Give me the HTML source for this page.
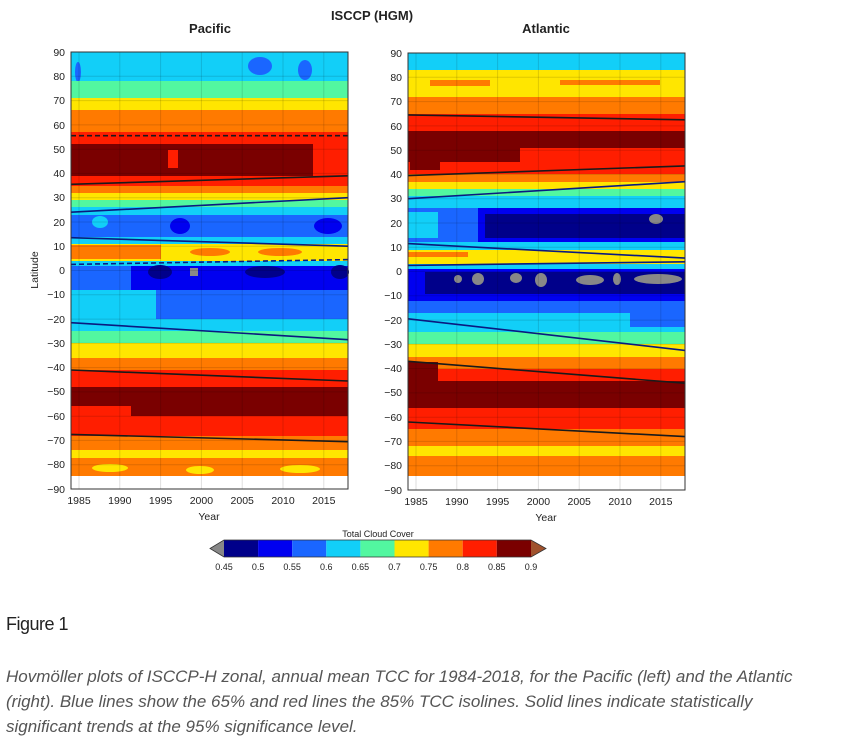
<!DOCTYPE html>
<html><head><meta charset="utf-8"><style>
body{margin:0;background:#fff;width:847px;height:750px;overflow:hidden;font-family:"Liberation Sans",sans-serif}
svg{position:absolute;left:0;top:0}
.fig{position:absolute;left:6px;top:614px;font-size:18px;color:#222;letter-spacing:-0.5px}
.cap{position:absolute;left:6px;top:664px;width:800px;font-size:17px;line-height:25px;font-style:italic;color:#555}
</style></head><body>
<svg width="847" height="750" viewBox="0 0 847 750" font-family="Liberation Sans, sans-serif">
<text x="372" y="20" font-size="13" font-weight="bold" text-anchor="middle" fill="#222">ISCCP (HGM)</text>
<text x="210" y="33" font-size="13" font-weight="bold" text-anchor="middle" fill="#222">Pacific</text>
<text x="546" y="33" font-size="13" font-weight="bold" text-anchor="middle" fill="#222">Atlantic</text>

<!-- PACIFIC -->
<g>
<rect x="71" y="52" width="277" height="29" fill="#12cff8"/>
<ellipse cx="260" cy="66" rx="12" ry="9" fill="#1a66ff"/><ellipse cx="305" cy="70" rx="7" ry="10" fill="#1a66ff"/><ellipse cx="78" cy="72" rx="3" ry="10" fill="#1a66ff"/>
<rect x="71" y="81" width="277" height="17" fill="#52f7a0"/>
<rect x="71" y="98" width="277" height="12" fill="#ffe600"/>
<rect x="71" y="110" width="277" height="22" fill="#ff7a00"/>
<rect x="71" y="132" width="277" height="12" fill="#ff1e00"/>
<rect x="71" y="144" width="277" height="32" fill="#7a0000"/>
<rect x="313" y="144" width="35" height="32" fill="#ff1e00"/>
<rect x="168" y="150" width="10" height="18" fill="#ff1e00"/>
<rect x="71" y="176" width="277" height="10" fill="#ff1e00"/>
<rect x="71" y="186" width="277" height="7" fill="#ff7a00"/>
<rect x="71" y="193" width="277" height="7" fill="#ffe600"/>
<rect x="71" y="200" width="277" height="7" fill="#52f7a0"/>
<rect x="71" y="207" width="277" height="8" fill="#12cff8"/>
<rect x="71" y="215" width="277" height="22" fill="#1a66ff"/>
<ellipse cx="180" cy="226" rx="10" ry="8" fill="#0000f0"/><ellipse cx="328" cy="226" rx="14" ry="8" fill="#0000f0"/><ellipse cx="100" cy="222" rx="8" ry="6" fill="#12cff8"/>
<rect x="71" y="237" width="277" height="7" fill="#12cff8"/>
<rect x="71" y="244" width="277" height="17" fill="#ffe600"/>
<rect x="71" y="245" width="90" height="14" fill="#ff7a00"/>
<ellipse cx="210" cy="252" rx="20" ry="4" fill="#ff7a00"/><ellipse cx="280" cy="252" rx="22" ry="4" fill="#ff7a00"/>
<rect x="71" y="261" width="277" height="5" fill="#12cff8"/>
<rect x="71" y="266" width="277" height="24" fill="#0000f0"/>
<rect x="71" y="266" width="60" height="24" fill="#1a66ff"/>
<ellipse cx="160" cy="272" rx="12" ry="7" fill="#00008a"/><ellipse cx="265" cy="272" rx="20" ry="6" fill="#00008a"/><ellipse cx="340" cy="272" rx="9" ry="7" fill="#00008a"/>
<rect x="190" y="268" width="8" height="8" fill="#888"/>
<rect x="71" y="290" width="277" height="29" fill="#1a66ff"/>
<rect x="71" y="290" width="85" height="29" fill="#12cff8"/>
<rect x="71" y="319" width="277" height="12" fill="#12cff8"/>
<rect x="71" y="331" width="277" height="12" fill="#52f7a0"/>
<rect x="71" y="343" width="277" height="15" fill="#ffe600"/>
<rect x="71" y="358" width="277" height="12" fill="#ff7a00"/>
<rect x="71" y="370" width="277" height="17" fill="#ff1e00"/>
<rect x="71" y="387" width="277" height="29" fill="#7a0000"/>
<rect x="71" y="406" width="60" height="10" fill="#ff1e00"/>
<rect x="71" y="416" width="277" height="20" fill="#ff1e00"/>
<rect x="71" y="436" width="277" height="14" fill="#ff7a00"/>
<rect x="71" y="450" width="277" height="8" fill="#ffe600"/>
<rect x="71" y="458" width="277" height="7" fill="#ff7a00"/>
<rect x="71" y="465" width="277" height="11" fill="#ff7a00"/>
<ellipse cx="110" cy="468" rx="18" ry="4" fill="#ffe600"/><ellipse cx="200" cy="470" rx="14" ry="4" fill="#ffe600"/><ellipse cx="300" cy="469" rx="20" ry="4" fill="#ffe600"/>
</g>
<!-- ATLANTIC -->
<g>
<rect x="408" y="53" width="277" height="17" fill="#12cff8"/>
<rect x="408" y="70" width="277" height="27" fill="#ffe600"/>
<rect x="430" y="80" width="60" height="6" fill="#ff7a00"/><rect x="560" y="80" width="100" height="5" fill="#ff7a00"/>
<rect x="408" y="97" width="277" height="17" fill="#ff7a00"/>
<rect x="408" y="114" width="277" height="17" fill="#ff1e00"/>
<rect x="408" y="131" width="277" height="31" fill="#7a0000"/>
<rect x="520" y="148" width="165" height="14" fill="#ff1e00"/>
<rect x="408" y="162" width="277" height="12" fill="#ff1e00"/>
<rect x="410" y="162" width="30" height="8" fill="#7a0000"/>
<rect x="408" y="174" width="277" height="8" fill="#ff7a00"/>
<rect x="408" y="182" width="277" height="7" fill="#ffe600"/>
<rect x="408" y="189" width="277" height="7" fill="#52f7a0"/>
<rect x="408" y="196" width="277" height="12" fill="#12cff8"/>
<rect x="408" y="208" width="277" height="34" fill="#0000f0"/>
<rect x="408" y="208" width="70" height="34" fill="#1a66ff"/>
<rect x="408" y="212" width="30" height="26" fill="#12cff8"/>
<rect x="485" y="214" width="200" height="24" fill="#00008a"/>
<ellipse cx="656" cy="219" rx="7" ry="5" fill="#888"/>
<rect x="408" y="242" width="277" height="8" fill="#12cff8"/>
<rect x="408" y="250" width="277" height="14" fill="#ffe600"/>
<rect x="408" y="252" width="60" height="5" fill="#ff7a00"/>
<rect x="408" y="264" width="277" height="5" fill="#12cff8"/>
<rect x="408" y="269" width="277" height="32" fill="#0000f0"/>
<rect x="425" y="272" width="260" height="22" fill="#00008a"/>
<ellipse cx="458" cy="279" rx="4" ry="4" fill="#888"/><ellipse cx="478" cy="279" rx="6" ry="6" fill="#888"/><ellipse cx="516" cy="278" rx="6" ry="5" fill="#888"/>
<ellipse cx="541" cy="280" rx="6" ry="7" fill="#888"/><ellipse cx="590" cy="280" rx="14" ry="5" fill="#888"/><ellipse cx="617" cy="279" rx="4" ry="6" fill="#888"/><ellipse cx="658" cy="279" rx="24" ry="5" fill="#888"/>
<rect x="408" y="301" width="277" height="12" fill="#1a66ff"/>
<rect x="408" y="313" width="277" height="19" fill="#12cff8"/>
<rect x="630" y="313" width="55" height="14" fill="#1a66ff"/>
<rect x="408" y="332" width="277" height="12" fill="#52f7a0"/>
<rect x="408" y="344" width="277" height="13" fill="#ffe600"/>
<rect x="408" y="357" width="277" height="12" fill="#ff7a00"/>
<rect x="408" y="369" width="277" height="12" fill="#ff1e00"/>
<rect x="408" y="381" width="277" height="27" fill="#7a0000"/>
<rect x="408" y="362" width="30" height="20" fill="#7a0000"/>
<rect x="408" y="408" width="277" height="21" fill="#ff1e00"/>
<rect x="408" y="429" width="277" height="17" fill="#ff7a00"/>
<rect x="408" y="446" width="277" height="10" fill="#ffe600"/>
<rect x="408" y="456" width="277" height="20" fill="#ff7a00"/>
</g>
<!-- grid -->
<g stroke="#000" stroke-opacity="0.13" stroke-width="1">
<path d="M71 76.3H348M71 100.6H348M71 124.9H348M71 149.2H348M71 173.4H348M71 197.7H348M71 222H348M71 246.2H348M71 270.5H348M71 294.8H348M71 319.1H348M71 343.3H348M71 367.6H348M71 391.9H348M71 416.2H348M71 440.4H348M71 464.7H348"/>
<path d="M79 52V489M119.8 52V489M160.6 52V489M201.4 52V489M242.2 52V489M283 52V489M323.8 52V489"/>
<path d="M408 77.3H685M408 101.6H685M408 125.9H685M408 150.2H685M408 174.4H685M408 198.7H685M408 223H685M408 247.2H685M408 271.5H685M408 295.8H685M408 320.1H685M408 344.3H685M408 368.6H685M408 392.9H685M408 417.2H685M408 441.4H685M408 465.7H685"/>
<path d="M416 53V490M456.8 53V490M497.6 53V490M538.4 53V490M579.2 53V490M620 53V490M660.8 53V490"/>
</g>
<!-- trend lines -->
<g fill="none" stroke-width="1.6">
<line x1="71" y1="135.7" x2="348" y2="135.7" stroke="#1a1a1a" stroke-dasharray="5,3"/>
<line x1="71" y1="184.3" x2="348" y2="175.8" stroke="#1a1a1a"/>
<line x1="71" y1="212.2" x2="348" y2="197.7" stroke="#0a1a80"/>
<line x1="71" y1="237.7" x2="348" y2="246.2" stroke="#0a1a80"/>
<line x1="71" y1="264.4" x2="348" y2="259.6" stroke="#0a1a80" stroke-dasharray="5,3"/>
<line x1="71" y1="322.7" x2="348" y2="339.7" stroke="#0a1a80"/>
<line x1="71" y1="370" x2="348" y2="381" stroke="#1a1a1a"/>
<line x1="71" y1="434.4" x2="348" y2="441.7" stroke="#1a1a1a"/>
<line x1="408" y1="114.9" x2="685" y2="119.8" stroke="#1a1a1a"/>
<line x1="408" y1="175.6" x2="685" y2="165.9" stroke="#1a1a1a"/>
<line x1="408" y1="198.7" x2="685" y2="181.7" stroke="#0a1a80"/>
<line x1="408" y1="243.6" x2="685" y2="258.1" stroke="#0a1a80"/>
<line x1="408" y1="265.4" x2="685" y2="261.8" stroke="#0a1a80"/>
<line x1="408" y1="318.8" x2="685" y2="350.4" stroke="#0a1a80"/>
<line x1="408" y1="361.3" x2="685" y2="383.2" stroke="#1a1a1a"/>
<line x1="408" y1="422" x2="685" y2="436.6" stroke="#1a1a1a"/>
</g>
<!-- axes frames -->
<rect x="71" y="52" width="277" height="437" fill="none" stroke="#333" stroke-width="1"/>
<rect x="408" y="53" width="277" height="437" fill="none" stroke="#333" stroke-width="1"/>
<g font-size="10.5" fill="#222" text-anchor="end">
<text x="65" y="56">90</text><text x="65" y="80">80</text><text x="65" y="104">70</text><text x="65" y="129">60</text><text x="65" y="153">50</text><text x="65" y="177">40</text><text x="65" y="201">30</text><text x="65" y="226">20</text><text x="65" y="250">10</text><text x="65" y="274">0</text><text x="65" y="298">−10</text><text x="65" y="323">−20</text><text x="65" y="347">−30</text><text x="65" y="371">−40</text><text x="65" y="395">−50</text><text x="65" y="420">−60</text><text x="65" y="444">−70</text><text x="65" y="468">−80</text><text x="65" y="493">−90</text>
<text x="402" y="57">90</text><text x="402" y="81">80</text><text x="402" y="105">70</text><text x="402" y="130">60</text><text x="402" y="154">50</text><text x="402" y="178">40</text><text x="402" y="202">30</text><text x="402" y="227">20</text><text x="402" y="251">10</text><text x="402" y="275">0</text><text x="402" y="299">−10</text><text x="402" y="324">−20</text><text x="402" y="348">−30</text><text x="402" y="372">−40</text><text x="402" y="396">−50</text><text x="402" y="421">−60</text><text x="402" y="445">−70</text><text x="402" y="469">−80</text><text x="402" y="494">−90</text>
</g>
<g font-size="10.5" fill="#222" text-anchor="middle">
<text x="79" y="504">1985</text><text x="119.8" y="504">1990</text><text x="160.6" y="504">1995</text><text x="201.4" y="504">2000</text><text x="242.2" y="504">2005</text><text x="283" y="504">2010</text><text x="323.8" y="504">2015</text>
<text x="416" y="505">1985</text><text x="456.8" y="505">1990</text><text x="497.6" y="505">1995</text><text x="538.4" y="505">2000</text><text x="579.2" y="505">2005</text><text x="620" y="505">2010</text><text x="660.8" y="505">2015</text>
<text x="209" y="520">Year</text><text x="546" y="521">Year</text>
</g>
<text x="38" y="270" font-size="10.5" fill="#222" text-anchor="middle" transform="rotate(-90 38 270)">Latitude</text>
<!-- colorbar -->
<text x="378" y="537" font-size="9" fill="#222" text-anchor="middle">Total Cloud Cover</text>
<polygon points="224,540 224,557 210,548.5" fill="#888"/>
<polygon points="531,540 531,557 546,548.5" fill="#a0522d"/>
<rect x="224" y="540" width="34.1" height="17" fill="#00008a"/>
<rect x="258.1" y="540" width="34.1" height="17" fill="#0000f0"/>
<rect x="292.2" y="540" width="34.1" height="17" fill="#1a66ff"/>
<rect x="326.3" y="540" width="34.1" height="17" fill="#12cff8"/>
<rect x="360.4" y="540" width="34.1" height="17" fill="#52f7a0"/>
<rect x="394.5" y="540" width="34.1" height="17" fill="#ffe600"/>
<rect x="428.6" y="540" width="34.1" height="17" fill="#ff7a00"/>
<rect x="462.7" y="540" width="34.1" height="17" fill="#ff1e00"/>
<rect x="496.8" y="540" width="34.2" height="17" fill="#7a0000"/>
<polygon points="210,548.5 224,540 531,540 546,548.5 531,557 224,557" fill="none" stroke="#333" stroke-width="0.8"/>
<g font-size="9" fill="#222" text-anchor="middle">
<text x="224" y="570">0.45</text><text x="258.1" y="570">0.5</text><text x="292.2" y="570">0.55</text><text x="326.3" y="570">0.6</text><text x="360.4" y="570">0.65</text><text x="394.5" y="570">0.7</text><text x="428.6" y="570">0.75</text><text x="462.7" y="570">0.8</text><text x="496.8" y="570">0.85</text><text x="531" y="570">0.9</text>
</g>
</svg>
<div class="fig">Figure 1</div>
<div class="cap">Hovmöller plots of ISCCP-H zonal, annual mean TCC for 1984-2018, for the Pacific (left) and the Atlantic (right). Blue lines show the 65% and red lines the 85% TCC isolines. Solid lines indicate statistically significant trends at the 95% significance level.</div>
</body></html>
